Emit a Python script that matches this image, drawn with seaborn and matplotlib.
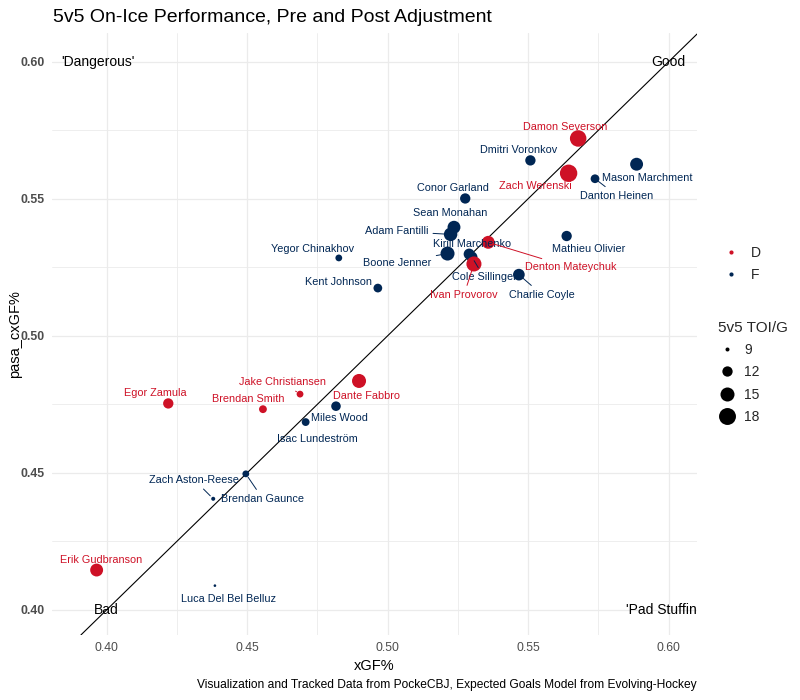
import matplotlib
matplotlib.use("Agg")
import matplotlib.pyplot as plt
import seaborn as sns
import pandas as pd
from matplotlib.lines import Line2D

# ---------------- data ----------------
players = [
    "Dmitri Voronkov", "Mason Marchment", "Danton Heinen", "Conor Garland",
    "Sean Monahan", "Adam Fantilli", "Boone Jenner", "Kirill Marchenko",
    "Cole Sillinger", "Mathieu Olivier", "Charlie Coyle", "Yegor Chinakhov",
    "Kent Johnson", "Miles Wood", "Isac Lundeström", "Brendan Gaunce",
    "Zach Aston-Reese", "Luca Del Bel Belluz",
    "Damon Severson", "Zach Werenski", "Denton Mateychuk", "Ivan Provorov",
    "Dante Fabbro", "Jake Christiansen", "Brendan Smith", "Egor Zamula",
    "Erik Gudbranson",
]
position = ["F"] * 18 + ["D"] * 9
xgf = [
    0.5508, 0.5886, 0.5738, 0.5276,
    0.5236, 0.5224, 0.5213, 0.5290,
    0.5300, 0.5637, 0.5467, 0.4826,
    0.4965, 0.4816, 0.4708, 0.4495,
    0.4379, 0.4385,
    0.5678, 0.5644, 0.5358, 0.5307,
    0.4898, 0.4688, 0.4556, 0.4219,
    0.3964,
]
pasa_cxgf = [
    0.5640, 0.5626, 0.5573, 0.5501,
    0.5396, 0.5370, 0.5300, 0.5298,
    0.5287, 0.5364, 0.5223, 0.5284,
    0.5174, 0.4743, 0.4685, 0.4496,
    0.4405, 0.4088,
    0.5720, 0.5593, 0.5341, 0.5262,
    0.4835, 0.4787, 0.4732, 0.4753,
    0.4145,
]
toi = [
    12.0, 14.0, 11.0, 12.0,
    14.0, 14.5, 15.0, 12.5,
    12.5, 12.0, 13.0, 10.0,
    11.0, 11.5, 10.5, 10.0,
    9.0, 8.7,
    17.5, 18.5, 14.0, 16.0,
    15.0, 10.0, 10.5, 12.0,
    14.0,
]
legend_sizes = [9, 12, 15, 18]
positions_legend = ["D", "F"]

# label placement (pixel offsets from point, image coords: +x right, +y down), segment flag
LABEL_OFFSETS = {
    "Damon Severson": (-13, -11, False),
    "Zach Werenski": (-33, 13, False),
    "Denton Mateychuk": (82, 25, True),
    "Ivan Provorov": (-10, 31, True),
    "Cole Sillinger": (12, 20, True),
    "Kirill Marchenko": (3, -10, False),
    "Charlie Coyle": (23, 20, True),
    "Mathieu Olivier": (22, 13, False),
    "Danton Heinen": (22, 17, True),
    "Mason Marchment": (11, 14, False),
    "Dmitri Voronkov": (-12, -10, False),
    "Conor Garland": (-12, -10, False),
    "Sean Monahan": (-4, -14, False),
    "Adam Fantilli": (-54, -3, True),
    "Boone Jenner": (-50, 9, True),
    "Yegor Chinakhov": (-26, -9, False),
    "Kent Johnson": (-39, -6, False),
    "Dante Fabbro": (7, 15, False),
    "Jake Christiansen": (-18, -12, True),
    "Brendan Smith": (-15, -10, False),
    "Egor Zamula": (-13, -10, False),
    "Miles Wood": (3, 12, False),
    "Isac Lundeström": (12, 17, False),
    "Zach Aston-Reese": (-19, -19, True),
    "Brendan Gaunce": (17, 25, True),
    "Luca Del Bel Belluz": (14, 13, False),
    "Erik Gudbranson": (4, -10, False),
}

df = pd.DataFrame({"player": players, "pos": position, "xgf": xgf,
                   "cxgf": pasa_cxgf, "toi": toi})

palette = {"D": "#CE1126", "F": "#002654"}

sns.set_theme(style="whitegrid")
plt.rcParams["font.family"] = ["Liberation Sans", "DejaVu Sans"]

fig = plt.figure(figsize=(8, 7), dpi=100)
ax = fig.add_axes([0.0646, 0.0929, 697 / 800 - 0.0646, 0.9529 - 0.0929])
ax.set_facecolor("white")

# size mapping: marker area linear in TOI
SIZE_NORM = (8.5, 20.0)
def area(v):
    return 8.3 + 15.6 * (v - 9.0)
sizes = (area(SIZE_NORM[0]), area(SIZE_NORM[1]))

ax.axline((0.4, 0.4), slope=1, color="black", lw=0.8, zorder=2)

sns.scatterplot(data=df, x="xgf", y="cxgf", hue="pos", size="toi",
                sizes=sizes, size_norm=SIZE_NORM, palette=palette,
                legend=False, ax=ax, linewidth=0, zorder=3)

for _, r in df.iterrows():
    dx, dy, seg = LABEL_OFFSETS[r["player"]]
    col = palette[r["pos"]]
    kw = {}
    if seg:
        kw["arrowprops"] = dict(arrowstyle="-", color=col, lw=0.7,
                                shrinkA=1, shrinkB=3)
    ax.annotate(r["player"], (r["xgf"], r["cxgf"]), xytext=(dx, -dy),
                textcoords="offset pixels", ha="center", va="center",
                fontsize=7.8, color=col, zorder=4, **kw)

# quadrant labels
qfs = 10
ax.text(0.397, 0.60, "'Dangerous'", ha="center", va="center", fontsize=qfs, color="black")
ax.text(0.60, 0.60, "Good", ha="center", va="center", fontsize=qfs, color="black")
ax.text(0.40, 0.40, "Bad", ha="center", va="center", fontsize=qfs, color="black")
ax.text(0.5975, 0.40, "'Pad Stuffin", ha="center", va="center", fontsize=qfs, color="black")

ax.set_xlim(0.3804, 0.6101)
ax.set_ylim(0.3908, 0.6105)
ax.set_xticks([0.40, 0.45, 0.50, 0.55, 0.60])
ax.set_yticks([0.40, 0.45, 0.50, 0.55, 0.60])
ax.set_xticklabels(["0.40", "0.45", "0.50", "0.55", "0.60"])
ax.set_yticklabels(["0.40", "0.45", "0.50", "0.55", "0.60"])
ax.set_xticks([0.425, 0.475, 0.525, 0.575], minor=True)
ax.set_yticks([0.425, 0.475, 0.525, 0.575], minor=True)
ax.grid(which="major", color="#EBEBEB", lw=0.9)
ax.grid(which="minor", color="#EBEBEB", lw=0.6)
for s in ax.spines.values():
    s.set_visible(False)
ax.tick_params(axis="both", which="both", length=0)
ax.tick_params(axis="x", labelsize=8.8, labelcolor="#4D4D4D", pad=5)
ax.tick_params(axis="y", labelsize=8.8, labelcolor="#4D4D4D", pad=5)
for t in ax.get_yticklabels():
    t.set_fontweight("bold")

ax.set_xlabel("xGF%", fontsize=10.5, color="black", labelpad=4)
ax.set_ylabel("pasa_cxGF%", fontsize=10.5, color="black", labelpad=-1)

fig.text(53 / 800, 1 - 17 / 700, "5v5 On-Ice Performance, Pre and Post Adjustment",
         fontsize=14.0, ha="left", va="center", color="black")
fig.text(697 / 800, 1 - 685 / 700,
         "Visualization and Tracked Data from PockeCBJ, Expected Goals Model from Evolving-Hockey",
         fontsize=8.65, ha="right", va="center", color="black")

# legends
h1 = [Line2D([], [], marker="o", ls="", color=palette[p], markersize=3, markeredgewidth=0)
      for p in positions_legend]
leg1 = fig.legend(h1, positions_legend, loc="center left",
                  bbox_to_anchor=(718 / 800, 1 - 264 / 700), frameon=False,
                  fontsize=10, handlelength=1.0, handletextpad=1.0,
                  labelspacing=0.6, borderaxespad=0)
h2 = [Line2D([], [], marker="o", ls="", color="black",
             markersize=area(v) ** 0.5, markeredgewidth=0) for v in legend_sizes]
leg2 = fig.legend(h2, [str(v) for v in legend_sizes], loc="upper left",
                  bbox_to_anchor=(712 / 800, 1 - 315 / 700), frameon=False,
                  fontsize=10, title="5v5 TOI/G", title_fontsize=11,
                  handlelength=1.4, handletextpad=0.5, labelspacing=0.6,
                  borderaxespad=0)
leg2._legend_box.align = "left"

fig.savefig("out.png", dpi=100)
